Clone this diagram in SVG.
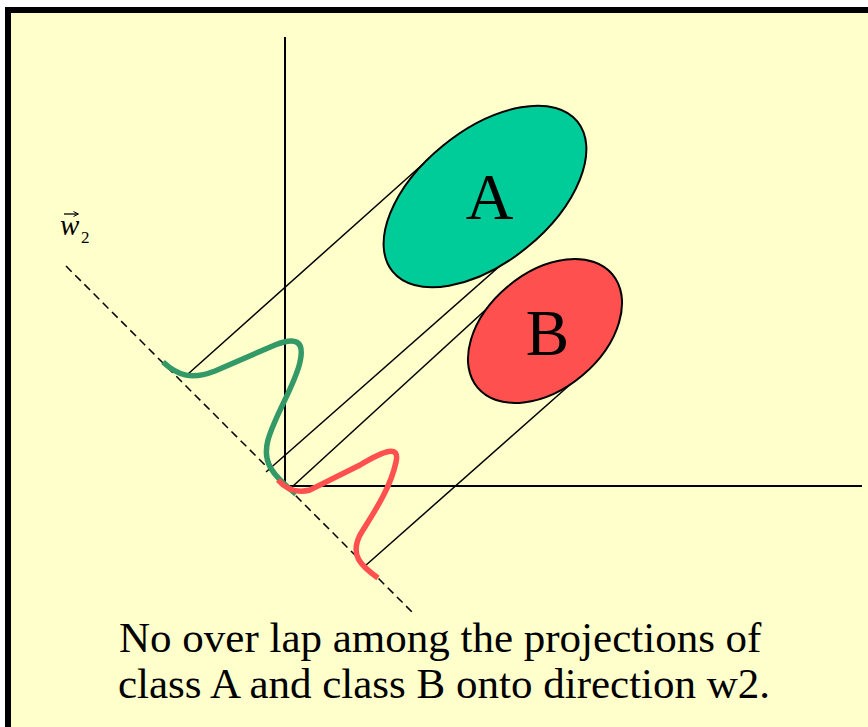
<svg xmlns="http://www.w3.org/2000/svg" width="868" height="727" viewBox="0 0 868 727">
<style>
.ax{stroke:#000;stroke-width:2;fill:none}
.pl{stroke:#000;stroke-width:1.5;fill:none}
.lbl{font-family:"Liberation Serif","Times New Roman",serif;fill:#000}
</style>
<rect x="0" y="0" width="868" height="727" fill="#fff"/>
<rect id="frame" x="8" y="10" width="900" height="800" fill="#FFFFCC" stroke="#000" stroke-width="6"/>
<g id="connectors">
<line class="ax" x1="285" y1="37" x2="285" y2="486"/>
<line class="ax" x1="285" y1="486" x2="862" y2="486"/>
<line x1="66" y1="266" x2="415" y2="615" stroke="#000" stroke-width="1.5" stroke-dasharray="8,5"/>
<line class="pl" x1="188" y1="374" x2="432" y2="156"/>
<line class="pl" x1="266" y1="472" x2="535" y2="235"/>
<line class="pl" x1="292" y1="487" x2="515" y2="283"/>
<line class="pl" x1="365" y1="566" x2="590" y2="367"/>
</g>
<g id="classA">
<ellipse cx="485" cy="196.5" rx="119" ry="66" transform="rotate(-39 485 196.5)" fill="#00CC99" stroke="#000" stroke-width="2"/>
<text class="lbl" x="489.5" y="219" font-size="66" text-anchor="middle">A</text>
</g>
<g id="classB">
<ellipse cx="545" cy="331" rx="88" ry="58" transform="rotate(-40 545 331)" fill="#FF5050" stroke="#000" stroke-width="2"/>
<text class="lbl" x="547.5" y="355" font-size="65" text-anchor="middle">B</text>
</g>
<g id="projA">
<path d="M163,362 C178,376 192,380 215,371 L275,345 C295,337 305,340 300,362 C295,385 275,415 268,440 C262,462 272,475 296,494" fill="none" stroke="#339966" stroke-width="5.5"/>
</g>
<g id="projB">
<path d="M278,480 C285,488 295,494 310,490 L360,465 C385,450 400,445 396,462 C390,490 372,515 360,535 C350,555 360,565 378,578" fill="none" stroke="#FF5050" stroke-width="5.5"/>
</g>
<g id="w2label">
<line x1="64" y1="214" x2="77" y2="214" stroke="#000" stroke-width="1.3"/>
<path d="M73.5,211.5 L78.5,214 L73.5,216.5" fill="none" stroke="#000" stroke-width="1"/>
<text class="lbl" x="60" y="235" font-size="29" font-style="italic">w</text>
<text class="lbl" x="81" y="243" font-size="17">2</text>
</g>
<g id="caption">
<text class="lbl" x="119" y="652" font-size="43">No over lap among the projections of</text>
<text class="lbl" x="118" y="698" font-size="43">class A and class B onto direction w2.</text>
</g>
</svg>
